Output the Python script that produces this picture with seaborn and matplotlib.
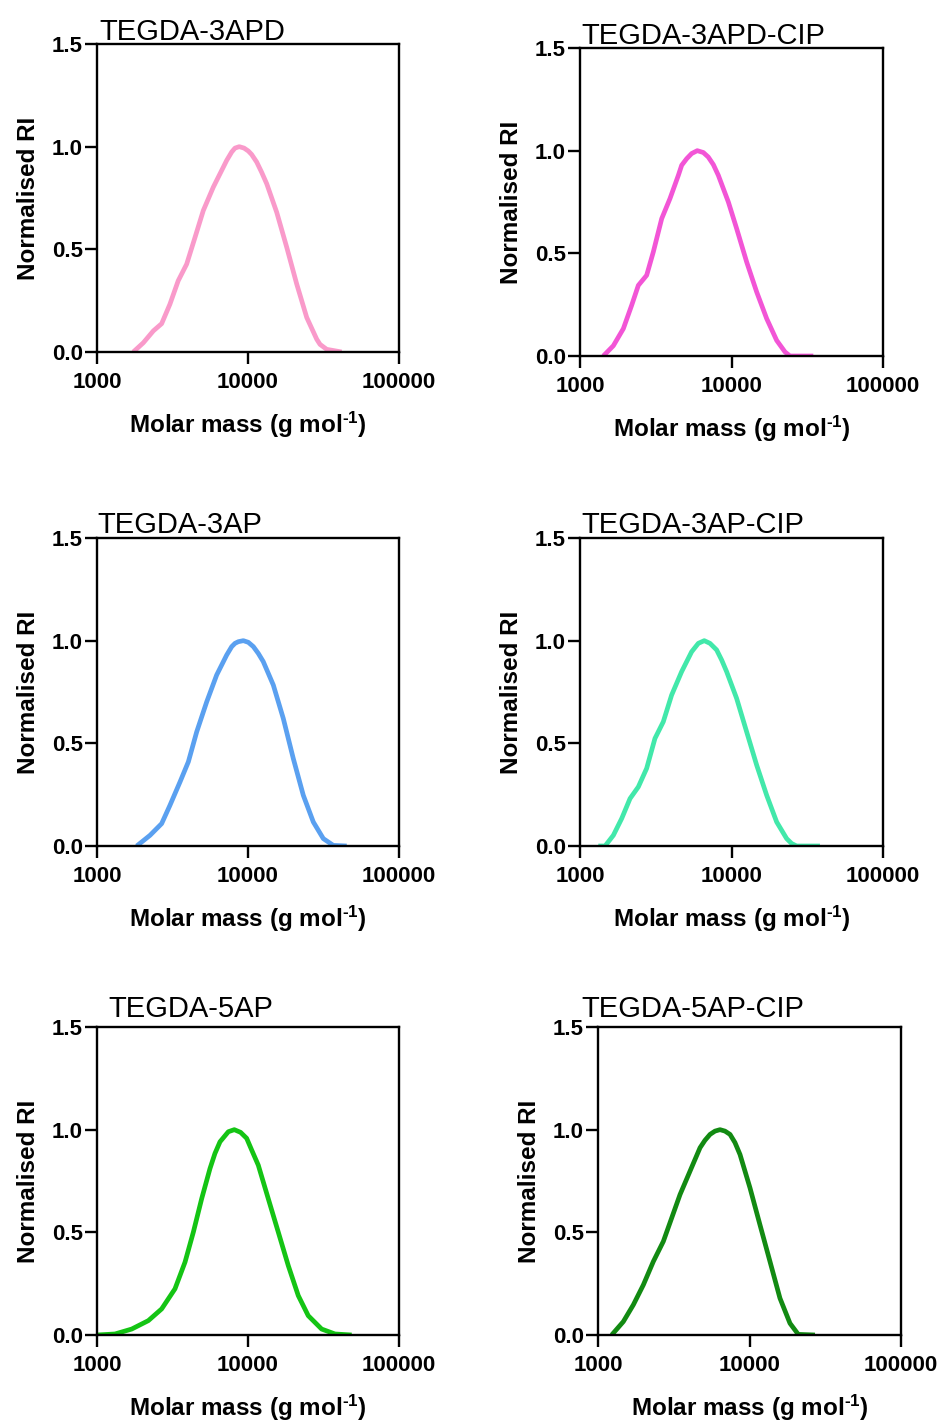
import numpy as np
import pandas as pd
import matplotlib
matplotlib.use("Agg")
import matplotlib.pyplot as plt
from matplotlib.ticker import FixedLocator, NullLocator, FixedFormatter
import seaborn as sns

# ---------------- data ----------------
titles = ["TEGDA-3APD", "TEGDA-3APD-CIP", "TEGDA-3AP", "TEGDA-3AP-CIP",
          "TEGDA-5AP", "TEGDA-5AP-CIP"]
colors = ["#F99ACA", "#F255D6", "#5AA0F0", "#42E8AA", "#14C414", "#128A12"]

mass_3apd = [1738, 2027, 2362, 2680, 3041, 3450, 3925, 4457, 5058, 5892, 6861, 7224, 7797,
             8200, 8754, 9420, 10040, 10570, 11420, 12300, 13310, 15500, 18050, 21020,
             24490, 28530, 30000, 33200, 41700]
ri_3apd = [0.0, 0.045, 0.103, 0.138, 0.233, 0.347, 0.428, 0.558, 0.689, 0.803, 0.900, 0.933,
           0.974, 0.993, 1.0, 0.993, 0.979, 0.962, 0.925, 0.876, 0.819, 0.680, 0.510, 0.331,
           0.168, 0.062, 0.037, 0.013, 0.0]

mass_3apd_cip = [1425, 1660, 1932, 2193, 2427, 2754, 3048, 3462, 3927, 4459, 4690, 5061, 5456,
                 5945, 6516, 7026, 7590, 8186, 9533, 10820, 12590, 14660, 17070, 19870, 22540,
                 24320, 34670]
ri_3apd_cip = [0.0, 0.050, 0.133, 0.247, 0.344, 0.393, 0.507, 0.669, 0.767, 0.880, 0.929, 0.961,
               0.986, 1.0, 0.991, 0.969, 0.932, 0.880, 0.750, 0.620, 0.458, 0.312, 0.182, 0.076,
               0.020, 0.0, 0.0]

mass_3ap = [1832, 2244, 2680, 3041, 3546, 4027, 4574, 5327, 6203, 7224, 7800, 8203, 8630, 9314,
            10050, 10850, 11700, 12620, 14710, 17130, 19950, 23240, 27070, 31530, 36720, 45050]
ri_3ap = [0.0, 0.052, 0.109, 0.198, 0.312, 0.410, 0.556, 0.702, 0.833, 0.930, 0.971, 0.987,
          0.995, 1.0, 0.992, 0.971, 0.938, 0.898, 0.784, 0.621, 0.426, 0.247, 0.117, 0.036,
          0.003, 0.0]

mass_3ap_cip = [1321, 1463, 1660, 1885, 2139, 2427, 2754, 3125, 3546, 4025, 4686, 5456, 6040,
                6610, 7210, 7976, 8610, 9287, 10810, 12590, 14660, 17070, 19870, 23120, 24950,
                26910, 38350]
ri_3ap_cip = [0.0, 0.0, 0.052, 0.134, 0.231, 0.288, 0.378, 0.524, 0.605, 0.735, 0.849, 0.946,
              0.987, 1.0, 0.987, 0.955, 0.906, 0.849, 0.719, 0.556, 0.394, 0.247, 0.117, 0.036,
              0.012, 0.0, 0.0]

mass_5ap = [1000, 1316, 1698, 2188, 2680, 3285, 3828, 4346, 4935, 5603, 6040, 6525, 7410, 8115,
            8930, 9797, 10590, 11700, 13620, 15870, 18480, 21520, 25060, 30730, 37670, 48600]
ri_5ap = [0.0, 0.005, 0.029, 0.070, 0.127, 0.225, 0.355, 0.501, 0.664, 0.811, 0.884, 0.941,
          0.990, 1.0, 0.987, 0.958, 0.900, 0.827, 0.664, 0.501, 0.338, 0.192, 0.094, 0.029,
          0.005, 0.0]

mass_5ap_cip = [1231, 1469, 1711, 1992, 2319, 2700, 3065, 3479, 4050, 4715, 5080, 5489, 5920,
                6388, 6890, 7437, 8020, 8657, 10070, 11720, 13650, 15890, 18500, 20980, 27050]
ri_5ap_cip = [0.0, 0.065, 0.147, 0.244, 0.358, 0.456, 0.570, 0.684, 0.798, 0.912, 0.948, 0.977,
              0.993, 1.0, 0.993, 0.977, 0.937, 0.879, 0.717, 0.537, 0.358, 0.179, 0.057, 0.003,
              0.0]

series = [(mass_3apd, ri_3apd), (mass_3apd_cip, ri_3apd_cip), (mass_3ap, ri_3ap),
          (mass_3ap_cip, ri_3ap_cip), (mass_5ap, ri_5ap), (mass_5ap_cip, ri_5ap_cip)]

x_ticks = [1000, 10000, 100000]
x_ticklabels = ["1000", "10000", "100000"]
y_ticks = [0.0, 0.5, 1.0, 1.5]
y_ticklabels = ["0.0", "0.5", "1.0", "1.5"]
xlabel = "Molar mass (g mol$^{\\text{-1}}$)"
ylabel = "Normalised RI"

# ---------------- style ----------------
sns.set_theme(style="ticks")
plt.rcParams["font.family"] = ["Liberation Sans", "DejaVu Sans"]
plt.rcParams["mathtext.fontset"] = "custom"
plt.rcParams["mathtext.rm"] = "Liberation Sans:bold"
plt.rcParams["mathtext.bf"] = "Liberation Sans:bold"
plt.rcParams["mathtext.it"] = "Liberation Sans:bold"

W, H = 944, 1428
fig = plt.figure(figsize=(W / 100, H / 100), dpi=100)

# axes boxes in pixels: (left, top, right, bottom)
boxes = [(97, 44, 399, 352), (580, 48, 883, 356),
         (97, 538, 399, 846), (580, 538, 883, 846),
         (97, 1027, 399, 1335), (598, 1027, 901, 1335)]
title_pos = [(99, 40), (581, 44), (97, 533), (581, 533), (108, 1017), (581, 1017)]

for i, (box, (mx, ri)) in enumerate(zip(boxes, series)):
    l, t, r, b = box
    ax = fig.add_axes([l / W, 1 - b / H, (r - l) / W, (b - t) / H])
    df = pd.DataFrame({"mass": mx, "ri": ri})
    sns.lineplot(data=df, x="mass", y="ri", ax=ax, color=colors[i], linewidth=3.4,
                 solid_capstyle="butt", solid_joinstyle="round")
    ax.set_xscale("log")
    ax.set_xlim(1000, 100000)
    ax.set_ylim(0, 1.5)
    ax.xaxis.set_major_locator(FixedLocator(x_ticks))
    ax.xaxis.set_major_formatter(FixedFormatter(x_ticklabels))
    ax.xaxis.set_minor_locator(NullLocator())
    ax.yaxis.set_major_locator(FixedLocator(y_ticks))
    ax.yaxis.set_major_formatter(FixedFormatter(y_ticklabels))
    for s in ax.spines.values():
        s.set_visible(True)
        s.set_color("black")
        s.set_linewidth(1.7)
    ax.tick_params(axis="both", which="major", direction="out", length=8.5, width=1.7,
                   color="black", labelcolor="black", labelsize=16)
    ax.tick_params(axis="y", pad=1.5)
    ax.tick_params(axis="x", pad=6)
    for lab in ax.get_xticklabels() + ax.get_yticklabels():
        lab.set_fontweight("bold")
    ax.set_xlabel(xlabel, fontsize=17.5, fontweight="bold", labelpad=12, color="black")
    ax.set_ylabel(ylabel, fontsize=17.5, fontweight="bold", labelpad=9, color="black")
    ax.set_facecolor("white")
    tx, ty = title_pos[i]
    fig.text(tx / W, 1 - ty / H, titles[i], fontsize=21, ha="left", va="baseline",
             color="black")

fig.savefig("out.png", dpi=100, facecolor="white")
